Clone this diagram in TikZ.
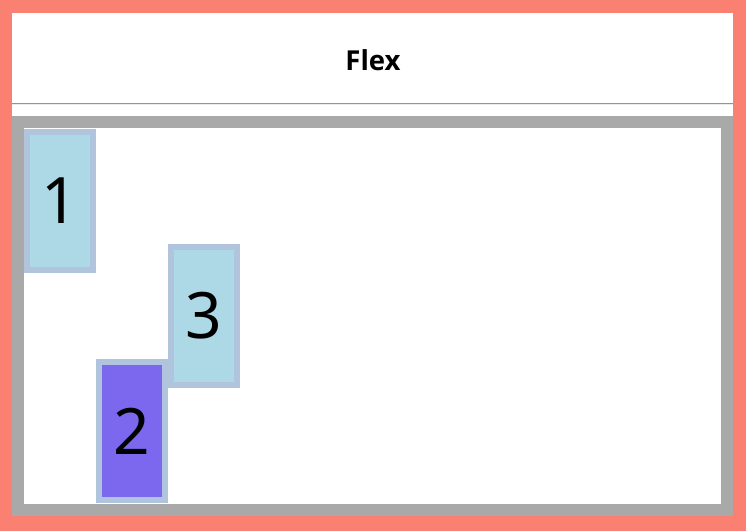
\documentclass[tikz,border=0pt]{standalone}
\usepackage{fontspec}
\setmainfont{Noto Sans}
\newfontfamily\titlefont{Open Sans}[BoldFont={* Bold}]
\definecolor{salmonc}{HTML}{FA8072}
\definecolor{grayc}{HTML}{A9A9A9}
\definecolor{lblue}{HTML}{ADD8E6}
\definecolor{lsteel}{HTML}{B0C4DE}
\definecolor{mslate}{HTML}{7B68EE}
\tikzset{
  flexitem/.style={draw=lsteel, line width=6pt, fill=lblue, minimum width=66pt, minimum height=138pt, inner sep=0pt, outer sep=0pt, font=\fontsize{64}{64}\selectfont},
  purpleitem/.style={flexitem, fill=mslate}
}
\begin{document}
\begin{tikzpicture}[x=1pt,y=-1pt]
\useasboundingbox (0,0) rectangle (746,531);
\fill[salmonc] (0,0) rectangle (746,531);
\fill[white] (12,13) rectangle (733,516);
% header
\node[font=\titlefont\bfseries\fontsize{27.5}{27.5}\selectfont] (title) at (373,60) {Flex};
\coordinate (hrL) at (12,103);
\coordinate (hrR) at (733,103);
\draw[color=black!42, line width=1pt] (hrL) -- (hrR);
\draw[color=black!8, line width=1pt] ([yshift=-1pt]hrL) -- ([yshift=-1pt]hrR);
% container
\node[draw=grayc, line width=12pt, fill=white, minimum width=709pt, minimum height=388pt, inner sep=0pt, outer sep=0pt] (box) at (372.5,316) {};
% items
\node[flexitem] (one) at (60,201) {1};
\node[purpleitem] (two) at (132,431) {2};
\node[flexitem] (three) at (204,316) {3};
\end{tikzpicture}
\end{document}
